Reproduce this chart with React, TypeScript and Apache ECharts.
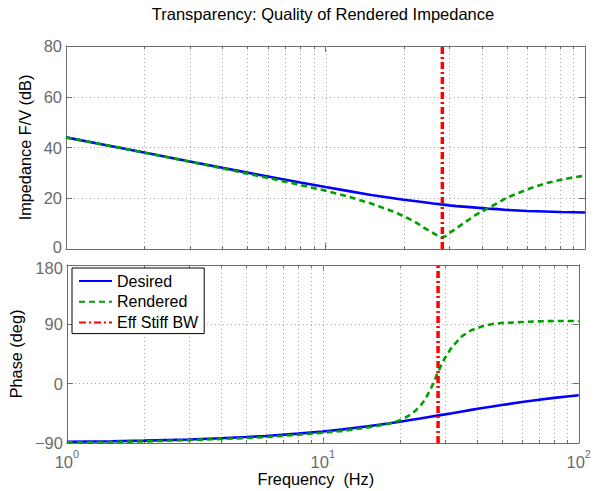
import React, { useEffect, useRef } from "react";
import * as echarts from "echarts";

const FONT = "'Liberation Sans', Arial, Helvetica, sans-serif";
const AXIS_COLOR = "#6b6b6b";
const GRID_COLOR = "#a8a8a8";

// Desired impedance: magnitude (dB) and phase (deg) against frequency (Hz)
const desiredFreqHz = [1, 1.5, 2, 3, 4, 5, 6, 8, 10, 12, 15, 18, 20, 22, 24, 26, 28, 30, 32, 35, 38, 42, 46, 50, 60, 70, 80, 90, 100];
const desiredMagDb = [44.0, 40.5, 38.0, 34.5, 32.0, 30.1, 28.6, 26.2, 24.4, 23.0, 21.3, 20.1, 19.4, 18.9, 18.4, 17.9, 17.6, 17.2, 16.9, 16.6, 16.3, 15.9, 15.7, 15.4, 15.0, 14.8, 14.6, 14.5, 14.4];
const desiredPhaseDeg = [-88.2, -87.3, -86.4, -84.6, -82.8, -81.0, -79.3, -75.8, -72.5, -69.3, -64.7, -60.4, -57.8, -55.2, -52.9, -50.6, -48.5, -46.6, -44.8, -42.2, -39.8, -37.0, -34.6, -32.4, -27.9, -24.4, -21.6, -19.4, -17.6];

// Rendered impedance
const renderedFreqHz = [1, 1.5, 2, 3, 4, 5, 6, 8, 10, 12, 15, 18, 19, 20, 21, 22, 23, 24, 25, 26, 27, 28, 29, 30, 32, 35, 38, 42, 46, 50, 60, 70, 80, 90, 100];
const renderedMagDb = [44.0, 40.5, 38.0, 34.4, 31.8, 29.7, 28.0, 25.2, 23.0, 20.9, 17.9, 15.0, 14.0, 12.9, 11.9, 10.8, 9.6, 8.3, 7.3, 6.3, 5.3, 4.6, 5.0, 6.3, 8.2, 11.0, 13.5, 15.9, 18.1, 20.2, 23.5, 25.8, 27.2, 28.2, 28.9];
const renderedPhaseDeg = [-89.0, -88.3, -87.6, -85.6, -84.0, -82.5, -81.0, -77.5, -74.5, -71.5, -66.5, -61.0, -58.5, -55.5, -51.5, -47.0, -41.0, -34.0, -25.0, -13.0, 0.0, 15.0, 28.0, 39.0, 56.0, 72.0, 81.0, 87.0, 90.5, 92.0, 93.5, 94.5, 95.0, 95.0, 95.0];

// Effective stiffness bandwidth (Hz)
const effStiffBwHz = 28.2;

// Axis ranges and grid positions
const freqRange = [1, 100];
const magRange = [0, 80];
const magInterval = 20;
const phaseRange = [-90, 180];
const phaseInterval = 90;
const gridFreqHz = [2, 3, 4, 5, 6, 7, 8, 9, 10, 20, 30, 40, 50, 60, 70, 80, 90];
const decadeFreqHz = [1, 10, 100];

const SERIES_NAMES = ["Desired", "Rendered", "Eff Stiff BW"];

function pairs(xs: number[], ys: number[]) {
  return xs.map((x, i) => [x, ys[i]]);
}

function xAxisDef(gridIndex: number, position: "bottom" | "top", withLabels: boolean, name?: string) {
  return {
    type: "log",
    logBase: 10,
    min: freqRange[0],
    max: freqRange[1],
    gridIndex,
    position,
    name: name || "",
    nameLocation: "middle",
    nameGap: 25,
    nameTextStyle: { fontSize: 16.3, color: "#000", fontFamily: FONT, padding: [0, 14, 0, 0] },
    axisLine: { show: true, onZero: false, lineStyle: { color: AXIS_COLOR, width: 1 } },
    axisTick: { show: true, inside: true, length: 6, lineStyle: { color: AXIS_COLOR } },
    axisLabel: {
      show: withLabels,
      margin: 5,
      formatter: (v: number) => `{b|10}{s|${Math.round(Math.log10(v))}}`,
      rich: {
        b: { fontSize: 16.5, color: AXIS_COLOR, fontFamily: FONT, lineHeight: 28, verticalAlign: "middle" },
        s: { fontSize: 11, color: AXIS_COLOR, fontFamily: FONT, lineHeight: 11, verticalAlign: "top" },
      },
    },
    splitLine: { show: false },
  };
}

// Tick labels of the two stacked plots sit edge to edge; the extreme ones are nudged apart slightly
function yLabelFormatter(range: number[], nudge: "up" | "down") {
  return (v: number) => {
    const txt = v < 0 ? "\u2212" + Math.abs(v) : String(v);
    if (nudge === "up" && v === range[0]) return `{lo|${txt}}`;
    if (nudge === "down" && v === range[1]) return `{hi|${txt}}`;
    return txt;
  };
}

function yAxisDef(
  gridIndex: number,
  position: "left" | "right",
  range: number[],
  interval: number,
  withLabels: boolean,
  nudge: "up" | "down",
  name?: string,
  nameGap?: number
) {
  return {
    type: "value",
    gridIndex,
    position,
    min: range[0],
    max: range[1],
    interval,
    name: name || "",
    nameLocation: "middle",
    nameGap: nameGap || 30,
    nameTextStyle: { fontSize: 16.3, color: "#000", fontFamily: FONT },
    axisLine: { show: true, onZero: false, lineStyle: { color: AXIS_COLOR, width: 1 } },
    axisTick: { show: true, inside: true, length: 6, lineStyle: { color: AXIS_COLOR } },
    axisLabel: {
      show: withLabels,
      margin: 4,
      fontSize: 16.5,
      color: AXIS_COLOR,
      fontFamily: FONT,
      formatter: yLabelFormatter(range, nudge),
      rich: {
        lo: { fontSize: 16.5, color: AXIS_COLOR, fontFamily: FONT, padding: [0, 0, 5, 0] },
        hi: { fontSize: 16.5, color: AXIS_COLOR, fontFamily: FONT, padding: [5, 0, 0, 0] },
      },
    },
    splitLine: {
      show: withLabels,
      lineStyle: { color: GRID_COLOR, width: 1, type: [1, 3] },
    },
  };
}

// Vertical dotted grid lines plus the small minor ticks along the top and bottom edges
function freqGridSeries(axisIndex: number, range: number[]) {
  return {
    type: "custom",
    xAxisIndex: axisIndex,
    yAxisIndex: axisIndex,
    silent: true,
    z: 1,
    encode: { x: 0, y: 1 },
    data: gridFreqHz.map((f) => [f, range[0]]),
    renderItem: (_params: any, api: any) => {
      const f = api.value(0);
      const top = api.coord([f, range[1]]);
      const bot = api.coord([f, range[0]]);
      const x = Math.round(top[0]) + 0.5;
      const children: any[] = [
        {
          type: "line",
          shape: { x1: x, y1: top[1], x2: x, y2: bot[1] },
          style: { stroke: GRID_COLOR, lineWidth: 1, lineDash: [1, 3] },
        },
      ];
      if (decadeFreqHz.indexOf(f) < 0) {
        children.push(
          { type: "line", shape: { x1: x, y1: top[1], x2: x, y2: top[1] + 3 }, style: { stroke: AXIS_COLOR, lineWidth: 1 } },
          { type: "line", shape: { x1: x, y1: bot[1], x2: x, y2: bot[1] - 3 }, style: { stroke: AXIS_COLOR, lineWidth: 1 } }
        );
      }
      return { type: "group", children };
    },
  };
}

function curveSeries(axisIndex: number, which: number, data: number[][]) {
  const styles = [
    { color: "#0000ff", width: 2.6, type: "solid" },
    { color: "#00a000", width: 2.6, type: [6, 4] },
    { color: "#ff0000", width: 3.5, type: [7, 3, 2, 3] },
  ];
  const s = styles[which];
  return {
    type: "line",
    name: SERIES_NAMES[which],
    xAxisIndex: axisIndex,
    yAxisIndex: axisIndex,
    data,
    symbol: "none",
    showSymbol: false,
    smooth: false,
    z: 3 + which,
    itemStyle: { color: s.color },
    lineStyle: { color: s.color, width: s.width, type: s.type as any },
    emphasis: { disabled: true },
  };
}

export default function App() {
  const ref = useRef<HTMLDivElement>(null);

  useEffect(() => {
    if (!ref.current) return;
    const chart = echarts.init(ref.current, undefined, { renderer: "svg" });

    const option: any = {
      animation: false,
      backgroundColor: "#ffffff",
      textStyle: { fontFamily: FONT },
      title: {
        text: "Transparency: Quality of Rendered Impedance",
        left: 318,
        top: 0,
        textAlign: "center",
        textStyle: { fontSize: 16.5, fontWeight: "normal", color: "#000", fontFamily: FONT },
      },
      legend: {
        data: SERIES_NAMES,
        orient: "vertical",
        left: 72,
        top: 268,
        itemWidth: 33,
        itemHeight: 14,
        itemGap: 4.8,
        padding: [5, 6, 3, 6],
        backgroundColor: "#ffffff",
        borderColor: "#000000",
        borderWidth: 1,
        borderRadius: 0,
        selectedMode: false,
        itemStyle: { opacity: 0 },
        textStyle: { fontSize: 16, color: "#000", fontFamily: FONT, lineHeight: 16 },
      },
      grid: [
        { left: 66, top: 46, width: 519, height: 203 },
        { left: 66, top: 265, width: 519, height: 178 },
      ],
      xAxis: [
        xAxisDef(0, "bottom", false),
        xAxisDef(0, "top", false),
        xAxisDef(1, "bottom", true, "Frequency  (Hz)"),
        xAxisDef(1, "top", false),
      ],
      yAxis: [
        yAxisDef(0, "left", magRange, magInterval, true, "up", "Impedance F/V (dB)", 29),
        yAxisDef(0, "right", magRange, magInterval, false, "up"),
        yAxisDef(1, "left", phaseRange, phaseInterval, true, "down", "Phase (deg)", 38),
        yAxisDef(1, "right", phaseRange, phaseInterval, false, "down"),
      ],
      series: [
        freqGridSeries(0, magRange),
        freqGridSeries(2, phaseRange),
        curveSeries(0, 0, pairs(desiredFreqHz, desiredMagDb)),
        curveSeries(0, 1, pairs(renderedFreqHz, renderedMagDb)),
        curveSeries(0, 2, [[effStiffBwHz, magRange[0]], [effStiffBwHz, magRange[1]]]),
        curveSeries(2, 0, pairs(desiredFreqHz, desiredPhaseDeg)),
        curveSeries(2, 1, pairs(renderedFreqHz, renderedPhaseDeg)),
        curveSeries(2, 2, [[effStiffBwHz, phaseRange[0]], [effStiffBwHz, phaseRange[1]]]),
      ],
    };

    chart.setOption(option);
    return () => chart.dispose();
  }, []);

  return (
    <div
      ref={ref}
      style={{ position: "absolute", left: 0, top: 0, width: 594, height: 491, background: "#fff" }}
    />
  );
}
